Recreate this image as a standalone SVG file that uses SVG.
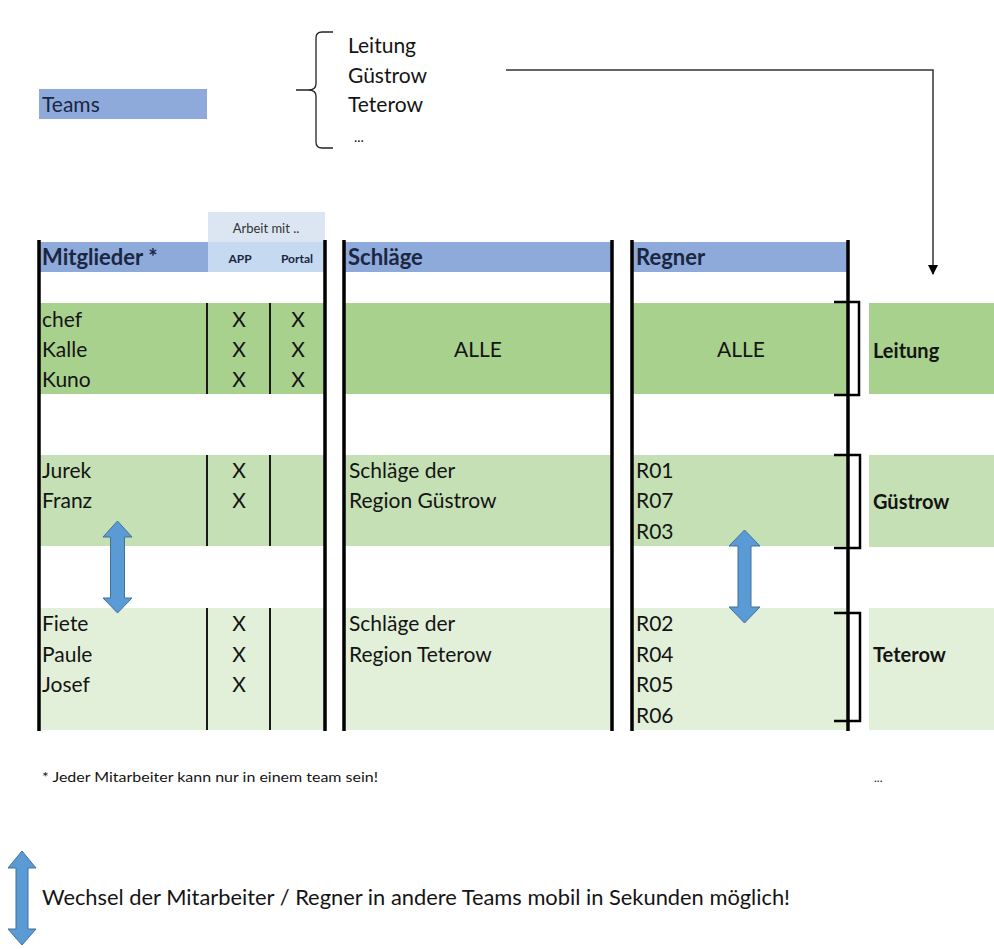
<svg xmlns="http://www.w3.org/2000/svg" width="994" height="949" viewBox="0 0 994 949">
<defs>
<style>
text{font-family:Lato,"Open Sans","Liberation Sans",sans-serif;fill:#141414}
.t{font-size:21px}
.h{font-size:22px;font-weight:bold;fill:#1b2640}
.s{font-size:12px;font-weight:bold;fill:#1b2640}
.lb{font-size:20px;font-weight:bold}
.col{stroke:#000;stroke-width:3.5}
.div{stroke:#1a1a1a;stroke-width:2}
.g1{fill:#a9d18e}.g2{fill:#c5e0b4}.g3{fill:#e2f0d9}
.hd{fill:#8eaadb}
.ar{fill:#5b9bd5;stroke:#41719c;stroke-width:1}
.br{fill:none;stroke:#000;stroke-width:2.5}
</style>
<marker id="ah" markerWidth="10" markerHeight="10" refX="9" refY="5" orient="auto" markerUnits="userSpaceOnUse" viewBox="0 0 10 10">
<path d="M0,0 L10,5 L0,10 Z" fill="#000"/>
</marker>
</defs>
<rect width="994" height="949" fill="#fff"/>

<g id="teams">
<rect x="39" y="89" width="168" height="30" class="hd"/>
<text x="42" y="112" class="t" style="fill:#1b2640">Teams</text>
</g>

<g id="team-list">
<path d="M333,32 H322 Q316,32 316,38 V84 Q316,90 308,90 H296 M308,90 Q316,90 316,96 V142 Q316,148 322,148 H333" fill="none" stroke="#222" stroke-width="1.3"/>
<text x="348" y="53" class="t">Leitung</text>
<text x="348" y="83" class="t">Güstrow</text>
<text x="348" y="112" class="t">Teterow</text>
<text x="354" y="142" class="t" style="font-size:14px">...</text>
</g>

<g id="connectors">
<path d="M506,70 H933 V274" fill="none" stroke="#333" stroke-width="1.5" marker-end="url(#ah)"/>
</g>

<g id="mitglieder">
<rect x="208" y="212" width="117" height="30" fill="#dce6f2"/>
<text x="266" y="233" text-anchor="middle" style="font-size:13px;fill:#333">Arbeit mit ..</text>
<rect x="39" y="242" width="169" height="30" class="hd"/>
<rect x="208" y="242" width="117" height="30" fill="#c5d9f1"/>
<text x="42" y="265" class="h">Mitglieder *</text>
<text x="240" y="263" class="s" text-anchor="middle">APP</text>
<text x="297" y="263" class="s" text-anchor="middle">Portal</text>
<rect x="39" y="303" width="286" height="91" class="g1"/>
<rect x="39" y="455" width="286" height="91" class="g2"/>
<rect x="39" y="608" width="286" height="122" class="g3"/>
<line x1="207" y1="303" x2="207" y2="394" class="div"/>
<line x1="270" y1="303" x2="270" y2="394" class="div"/>
<line x1="207" y1="455" x2="207" y2="546" class="div"/>
<line x1="270" y1="455" x2="270" y2="546" class="div"/>
<line x1="207" y1="608" x2="207" y2="730" class="div"/>
<line x1="270" y1="608" x2="270" y2="730" class="div"/>
<text x="42" y="327" class="t">chef</text>
<text x="42" y="357" class="t">Kalle</text>
<text x="42" y="387" class="t">Kuno</text>
<text x="42" y="478" class="t">Jurek</text>
<text x="42" y="508" class="t">Franz</text>
<text x="42" y="631" class="t">Fiete</text>
<text x="42" y="662" class="t">Paule</text>
<text x="42" y="692" class="t">Josef</text>
<g class="t" text-anchor="middle">
<text x="239" y="327">X</text><text x="298" y="327">X</text>
<text x="239" y="357">X</text><text x="298" y="357">X</text>
<text x="239" y="387">X</text><text x="298" y="387">X</text>
<text x="239" y="478">X</text>
<text x="239" y="508">X</text>
<text x="239" y="631">X</text>
<text x="239" y="662">X</text>
<text x="239" y="692">X</text>
</g>
<line x1="39" y1="240" x2="39" y2="731" class="col"/>
<line x1="325" y1="240" x2="325" y2="731" class="col"/>
</g>

<g id="schlaege">
<rect x="344" y="242" width="268" height="30" class="hd"/>
<text x="348" y="265" class="h">Schläge</text>
<rect x="344" y="303" width="268" height="91" class="g1"/>
<rect x="344" y="455" width="268" height="91" class="g2"/>
<rect x="344" y="608" width="268" height="122" class="g3"/>
<text x="478" y="357" class="t" text-anchor="middle">ALLE</text>
<text x="349" y="478" class="t">Schläge der</text>
<text x="349" y="508" class="t">Region Güstrow</text>
<text x="349" y="631" class="t">Schläge der</text>
<text x="349" y="662" class="t">Region Teterow</text>
<line x1="344" y1="240" x2="344" y2="731" class="col"/>
<line x1="612" y1="240" x2="612" y2="731" class="col"/>
</g>

<g id="regner">
<rect x="632" y="242" width="216" height="30" class="hd"/>
<text x="636" y="265" class="h">Regner</text>
<rect x="632" y="303" width="216" height="91" class="g1"/>
<rect x="632" y="455" width="216" height="91" class="g2"/>
<rect x="632" y="608" width="216" height="122" class="g3"/>
<text x="741" y="357" class="t" text-anchor="middle">ALLE</text>
<text x="636" y="478" class="t">R01</text>
<text x="636" y="508" class="t">R07</text>
<text x="636" y="539" class="t">R03</text>
<text x="636" y="631" class="t">R02</text>
<text x="636" y="662" class="t">R04</text>
<text x="636" y="692" class="t">R05</text>
<text x="636" y="723" class="t">R06</text>
<line x1="632" y1="240" x2="632" y2="731" class="col"/>
<line x1="848" y1="240" x2="848" y2="731" class="col"/>
</g>

<g id="brackets">
<path d="M834,302 H859 V395 H834" class="br"/>
<path d="M834,455 H860 V548 H834" class="br"/>
<path d="M834,613 H860 V721 H834" class="br"/>
</g>

<g id="label-leitung">
<rect x="869" y="303" width="125" height="91" class="g1"/>
<text x="873" y="358" class="lb">Leitung</text>
</g>
<g id="label-guestrow">
<rect x="869" y="455" width="125" height="92" class="g2"/>
<text x="873" y="509" class="lb">Güstrow</text>
</g>
<g id="label-teterow">
<rect x="869" y="608" width="125" height="122" class="g3"/>
<text x="873" y="662" class="lb">Teterow</text>
</g>

<g id="arrow-mitarbeiter">
<path d="M117.5,521 L132,537 H124.5 V598 H132 L117.5,613 L103,598 H110.5 V537 H103 Z" class="ar"/>
</g>
<g id="arrow-regner">
<path d="M744.5,530 L760,546 H751 V607 H760 L744.5,623 L729,607 H738 V546 H729 Z" class="ar"/>
</g>

<g id="footnote">
<text x="42" y="782" style="font-size:13px" textLength="336" lengthAdjust="spacingAndGlyphs">* Jeder Mitarbeiter kann nur in einem team sein!</text>
<text x="874" y="782" style="font-size:12px">...</text>
</g>

<g id="legend">
<path d="M22,851 L36,868 H28 V929 H36 L22,945 L8,929 H16 V868 H8 Z" class="ar"/>
<text x="42" y="905" style="font-size:21px" textLength="748" lengthAdjust="spacingAndGlyphs">Wechsel der Mitarbeiter / Regner in andere Teams mobil in Sekunden möglich!</text>
</g>
</svg>
